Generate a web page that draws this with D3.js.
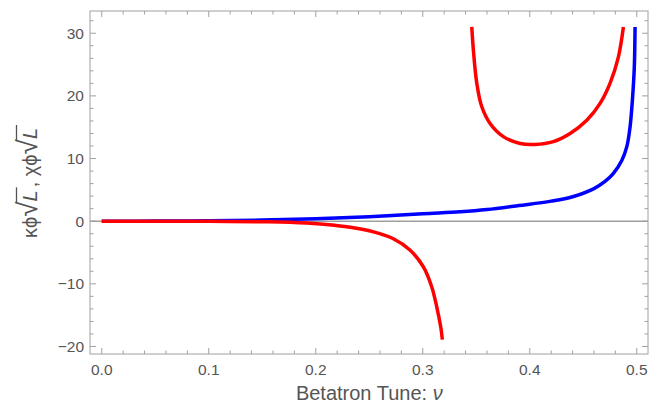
<!DOCTYPE html>
<html><head><meta charset="utf-8">
<script src="https://cdn.jsdelivr.net/npm/d3@7"></script>
<style>
html,body{margin:0;padding:0;background:#fff;}
text{font-family:"Liberation Sans",Arial,sans-serif;}
</style></head>
<body>
<svg id="c" width="670" height="406"></svg>
<script>
// ---- data ----
const blueNu  = [0, 0.05, 0.1, 0.15, 0.2, 0.25, 0.3, 0.335, 0.36, 0.39, 0.42, 0.44, 0.46, 0.47, 0.478, 0.486, 0.4907, 0.4937, 0.4959, 0.4977, 0.4984];
const blueVal = [0, 0.01, 0.06, 0.18, 0.4, 0.72, 1.2, 1.5, 1.85, 2.5, 3.2, 3.9, 5.2, 6.3, 7.6, 9.7, 11.9, 15, 19.3, 24.6, 31];
const redLowNu  = [0, 0.05, 0.1, 0.15, 0.1667, 0.198, 0.229, 0.254, 0.2725, 0.288, 0.3006, 0.3084, 0.3131, 0.3168, 0.3183];
const redLowVal = [0, -0.01, -0.03, -0.08, -0.12, -0.37, -0.9, -1.7, -2.8, -4.6, -7.3, -10.5, -13.7, -16.9, -18.9];
const redUpNu  = [0.3458, 0.3473, 0.3505, 0.3551, 0.3629, 0.3753, 0.391, 0.405, 0.422, 0.4377, 0.4533, 0.4657, 0.475, 0.4828, 0.4875];
const redUpVal = [31, 27.3, 22, 18.3, 15.6, 13.5, 12.4, 12.25, 12.7, 14, 16.1, 18.8, 22, 26.2, 31];
const xTicks = [0, 0.1, 0.2, 0.3, 0.4, 0.5];
const yTicks = [-20, -10, 0, 10, 20, 30];
const xLabel = "Betatron Tune: ";

const svg = d3.select("#c");
const L = 90, R = 648, T = 11, B = 354;
const x = d3.scaleLinear().domain([-0.011, 0.5105]).range([L, R]);
const y = d3.scaleLinear().domain([-21.2, 33.55]).range([B, T]);

const frameCol = "#a0a0a0", textCol = "#555";

// zero axis line
svg.append("line").attr("x1", L).attr("x2", R).attr("y1", y(0)).attr("y2", y(0))
  .attr("stroke", "#707070").attr("stroke-width", 1);

// curves
const line = d3.line().x(d => x(d[0])).y(d => y(d[1])).curve(d3.curveCatmullRom.alpha(0.5));
const zip = (a, b) => a.map((v, i) => [v, b[i]]);
const g = svg.append("g").attr("fill", "none").attr("stroke-width", 3.5);
g.append("path").attr("d", line(zip(blueNu, blueVal))).attr("stroke", "#0000ff");
g.append("path").attr("d", line(zip(redLowNu, redLowVal))).attr("stroke", "#ff0000");
g.append("path").attr("d", line(zip(redUpNu, redUpVal))).attr("stroke", "#ff0000");

// frame
svg.append("rect").attr("x", L).attr("y", T).attr("width", R - L).attr("height", B - T)
  .attr("fill", "none").attr("stroke", frameCol).attr("stroke-width", 1);

// ticks (inside, all sides)
const xMinor = d3.range(0, 0.5001, 0.02);
const yMinor = d3.range(-20, 32.01, 2);
const tk = svg.append("g").attr("stroke", frameCol).attr("stroke-width", 1);
xMinor.forEach(v => {
  const major = xTicks.some(t => Math.abs(t - v) < 1e-6);
  const len = major ? 6 : 3.5;
  tk.append("line").attr("x1", x(v)).attr("x2", x(v)).attr("y1", B).attr("y2", B - len);
  tk.append("line").attr("x1", x(v)).attr("x2", x(v)).attr("y1", T).attr("y2", T + len);
});
yMinor.forEach(v => {
  const major = yTicks.some(t => Math.abs(t - v) < 1e-6);
  const len = major ? 6 : 3.5;
  tk.append("line").attr("y1", y(v)).attr("y2", y(v)).attr("x1", L).attr("x2", L + len);
  tk.append("line").attr("y1", y(v)).attr("y2", y(v)).attr("x1", R).attr("x2", R - len);
});

// tick labels
const fmtX = d3.format(".1f");
svg.append("g").selectAll("text").data(xTicks).join("text")
  .attr("x", d => x(d)).attr("y", B + 21).attr("text-anchor", "middle")
  .attr("font-size", 15.5).attr("fill", textCol).text(d => fmtX(d));
svg.append("g").selectAll("text").data(yTicks).join("text")
  .attr("x", L - 6).attr("y", d => y(d) + 5.5).attr("text-anchor", "end")
  .attr("font-size", 15.5).attr("fill", textCol).text(d => d < 0 ? "\u2212" + Math.abs(d) : String(d));

// x axis title
const xt = svg.append("text").attr("x", (x(0) + x(0.5)) / 2).attr("y", 400).attr("text-anchor", "middle")
  .attr("font-size", 20).attr("fill", textCol);
xt.append("tspan").text(xLabel);
xt.append("tspan").attr("font-style", "italic").text("\u03BD");

// y axis title built from pieces (rotated)
const yg = svg.append("g").attr("transform", `translate(37, ${(T + B) / 2 - 1}) rotate(-90)`);
const pieces = [
  {t: "\u03BA\u03D5", fs: 20}, {t: "\u221A", fs: 28, rad: true}, {t: "L", fs: 20, it: true, over: true},
  {t: " , \u03C7\u03D5", fs: 20}, {t: "\u221A", fs: 28, rad: true}, {t: "L", fs: 20, it: true, over: true}
];
let cx = 0;
const made = [];
pieces.forEach(p => {
  const te = yg.append("text").attr("x", cx).attr("y", 0).attr("font-size", p.fs)
    .attr("fill", textCol).attr("font-style", p.it ? "italic" : "normal").text(p.t);
  const w = te.node().getComputedTextLength();
  made.push({p, te, x0: cx, w});
  cx += w + (p.over ? 3 : 0);
});
made.forEach(m => {
  if (m.p.over) {
    yg.append("line").attr("x1", m.x0 - 1).attr("x2", m.x0 + m.w + 3)
      .attr("y1", -20.5).attr("y2", -20.5).attr("stroke", textCol).attr("stroke-width", 1.3);
  }
});
yg.selectAll("*").attr("transform", `translate(${-cx / 2},0)`);
</script>
</body></html>
